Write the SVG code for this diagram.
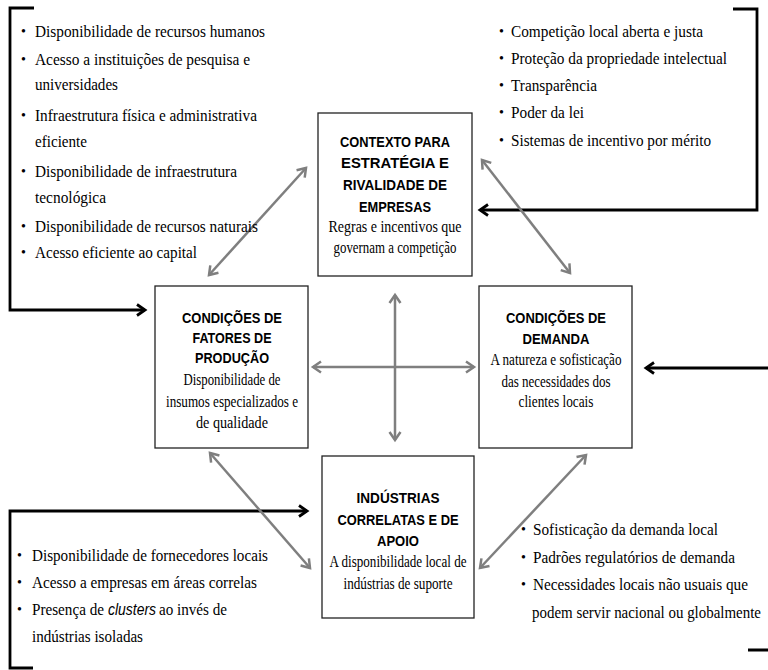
<svg xmlns="http://www.w3.org/2000/svg" width="768" height="670" viewBox="0 0 768 670">
  <style>
    .box { fill: #ffffff; stroke: #222222; stroke-width: 1.3; }
    .hd { font-family: "Liberation Sans Narrow", "Liberation Sans", Arial, sans-serif; font-weight: bold; font-size: 15.5px; fill: #000; text-anchor: middle; }
    .bd { font-family: "Liberation Serif", "Times New Roman", serif; font-size: 16.5px; fill: #000; text-anchor: middle; }
    .li { font-family: "Liberation Serif", "Times New Roman", serif; font-size: 16.5px; fill: #000; }
    .bu { font-family: "Liberation Serif", "Times New Roman", serif; font-size: 14px; fill: #000; }
    .it { font-family: "Liberation Sans Narrow", "Liberation Sans", Arial, sans-serif; font-style: italic; font-size: 16px; fill: #000; }
    .gray { fill: none; stroke: #7f7f7f; stroke-width: 2.5; }
    .blk { fill: none; stroke: #000000; stroke-width: 2.8; }
  </style>
  <defs>
    <marker id="hg" markerUnits="userSpaceOnUse" markerWidth="14" markerHeight="14" refX="10" refY="7" orient="auto-start-reverse">
      <path d="M2,1.5 L10,7 L2,12.5" fill="none" stroke="#7f7f7f" stroke-width="2.5"/>
    </marker>
    <marker id="hb" markerUnits="userSpaceOnUse" markerWidth="14" markerHeight="14" refX="10" refY="7" orient="auto">
      <path d="M2,1.5 L10,7 L2,12.5" fill="none" stroke="#000000" stroke-width="2.8"/>
    </marker>
  </defs>

  <rect width="768" height="670" fill="#ffffff"/>

  <!-- connectors -->
  <g id="connectors">
    <!-- feedback brackets -->
    <path class="blk" d="M34,8 H10 V310 H145" marker-end="url(#hb)"/>
    <path class="blk" d="M733,9 H757 V210 H480" marker-end="url(#hb)"/>
    <path class="blk" d="M748,650 H790 V368 H646" marker-end="url(#hb)"/>
    <path class="blk" d="M33,668 H10 V511 H307" marker-end="url(#hb)"/>
    <!-- mutual influences -->
    <line class="gray" x1="209" y1="275" x2="306" y2="168" marker-start="url(#hg)" marker-end="url(#hg)"/>
    <line class="gray" x1="482" y1="160" x2="570" y2="273" marker-start="url(#hg)" marker-end="url(#hg)"/>
    <line class="gray" x1="313" y1="367" x2="474" y2="367" stroke-width="3" marker-start="url(#hg)" marker-end="url(#hg)"/>
    <line class="gray" x1="395" y1="295" x2="395" y2="440" stroke-width="2" marker-start="url(#hg)" marker-end="url(#hg)"/>
    <line class="gray" x1="210" y1="453" x2="310" y2="568" marker-start="url(#hg)" marker-end="url(#hg)"/>
    <line class="gray" x1="586" y1="455" x2="480" y2="568" marker-start="url(#hg)" marker-end="url(#hg)"/>
  </g>

  <!-- strategy, structure and rivalry -->
  <g id="contexto">
    <rect class="box" x="318" y="113" width="154" height="163"/>
    <text class="hd" x="395" y="147" textLength="110" lengthAdjust="spacingAndGlyphs">CONTEXTO PARA</text>
    <text class="hd" x="395" y="168" textLength="108" lengthAdjust="spacingAndGlyphs">ESTRATÉGIA E</text>
    <text class="hd" x="395" y="190" textLength="104" lengthAdjust="spacingAndGlyphs">RIVALIDADE DE</text>
    <text class="hd" x="395" y="212" textLength="72" lengthAdjust="spacingAndGlyphs">EMPRESAS</text>
    <text class="bd" x="395" y="232" textLength="133" lengthAdjust="spacingAndGlyphs">Regras e incentivos que</text>
    <text class="bd" x="395" y="253" textLength="123" lengthAdjust="spacingAndGlyphs">governam a competição</text>
  </g>

  <!-- factor conditions -->
  <g id="fatores">
    <rect class="box" x="155" y="286" width="153" height="162"/>
    <text class="hd" x="232" y="323" textLength="100" lengthAdjust="spacingAndGlyphs">CONDIÇÕES DE</text>
    <text class="hd" x="232" y="343" textLength="79" lengthAdjust="spacingAndGlyphs">FATORES DE</text>
    <text class="hd" x="232" y="363" textLength="74" lengthAdjust="spacingAndGlyphs">PRODUÇÃO</text>
    <text class="bd" x="232" y="385" textLength="97" lengthAdjust="spacingAndGlyphs">Disponibilidade de</text>
    <text class="bd" x="232" y="407" textLength="132" lengthAdjust="spacingAndGlyphs">insumos especializados e</text>
    <text class="bd" x="232" y="428" textLength="72" lengthAdjust="spacingAndGlyphs">de qualidade</text>
  </g>

  <!-- demand conditions -->
  <g id="demanda">
    <rect class="box" x="479" y="286" width="153" height="162"/>
    <text class="hd" x="556" y="323" textLength="100" lengthAdjust="spacingAndGlyphs">CONDIÇÕES DE</text>
    <text class="hd" x="556" y="344" textLength="67" lengthAdjust="spacingAndGlyphs">DEMANDA</text>
    <text class="bd" x="556" y="365" textLength="131" lengthAdjust="spacingAndGlyphs">A natureza e sofisticação</text>
    <text class="bd" x="556" y="387" textLength="109" lengthAdjust="spacingAndGlyphs">das necessidades dos</text>
    <text class="bd" x="556" y="407" textLength="75" lengthAdjust="spacingAndGlyphs">clientes locais</text>
  </g>

  <!-- related and supporting industries -->
  <g id="industrias">
    <rect class="box" x="322" y="456" width="152" height="162"/>
    <text class="hd" x="398" y="503" textLength="83" lengthAdjust="spacingAndGlyphs">INDÚSTRIAS</text>
    <text class="hd" x="398" y="525" textLength="121" lengthAdjust="spacingAndGlyphs">CORRELATAS E DE</text>
    <text class="hd" x="398" y="546" textLength="42" lengthAdjust="spacingAndGlyphs">APOIO</text>
    <text class="bd" x="398" y="567" textLength="137" lengthAdjust="spacingAndGlyphs">A disponibilidade local de</text>
    <text class="bd" x="398" y="589" textLength="109" lengthAdjust="spacingAndGlyphs">indústrias de suporte</text>
  </g>

  <!-- factor list -->
  <g id="lista-fatores">
    <text class="bu" x="21" y="36">•</text>
    <text class="li" x="35" y="37" textLength="230" lengthAdjust="spacingAndGlyphs">Disponibilidade de recursos humanos</text>
    <text class="bu" x="21" y="64">•</text>
    <text class="li" x="35" y="65" textLength="215" lengthAdjust="spacingAndGlyphs">Acesso a instituições de pesquisa e</text>
    <text class="li" x="35" y="90" textLength="83" lengthAdjust="spacingAndGlyphs">universidades</text>
    <text class="bu" x="21" y="120">•</text>
    <text class="li" x="35" y="121" textLength="222" lengthAdjust="spacingAndGlyphs">Infraestrutura física e administrativa</text>
    <text class="li" x="35" y="147" textLength="52" lengthAdjust="spacingAndGlyphs">eficiente</text>
    <text class="bu" x="21" y="176">•</text>
    <text class="li" x="35" y="177" textLength="202" lengthAdjust="spacingAndGlyphs">Disponibilidade de infraestrutura</text>
    <text class="li" x="35" y="203" textLength="71" lengthAdjust="spacingAndGlyphs">tecnológica</text>
    <text class="bu" x="21" y="231">•</text>
    <text class="li" x="35" y="232" textLength="223" lengthAdjust="spacingAndGlyphs">Disponibilidade de recursos naturais</text>
    <text class="bu" x="21" y="257">•</text>
    <text class="li" x="35" y="258" textLength="162" lengthAdjust="spacingAndGlyphs">Acesso eficiente ao capital</text>
  </g>

  <!-- rivalry list -->
  <g id="lista-contexto">
    <text class="bu" x="499" y="36">•</text>
    <text class="li" x="511" y="37" textLength="192" lengthAdjust="spacingAndGlyphs">Competição local aberta e justa</text>
    <text class="bu" x="499" y="63">•</text>
    <text class="li" x="511" y="64" textLength="216" lengthAdjust="spacingAndGlyphs">Proteção da propriedade intelectual</text>
    <text class="bu" x="499" y="90">•</text>
    <text class="li" x="511" y="91" textLength="86" lengthAdjust="spacingAndGlyphs">Transparência</text>
    <text class="bu" x="499" y="117">•</text>
    <text class="li" x="511" y="118" textLength="73" lengthAdjust="spacingAndGlyphs">Poder da lei</text>
    <text class="bu" x="499" y="145">•</text>
    <text class="li" x="511" y="146" textLength="200" lengthAdjust="spacingAndGlyphs">Sistemas de incentivo por mérito</text>
  </g>

  <!-- supporting industries list -->
  <g id="lista-industrias">
    <text class="bu" x="17" y="560">•</text>
    <text class="li" x="32" y="561" textLength="236" lengthAdjust="spacingAndGlyphs">Disponibilidade de fornecedores locais</text>
    <text class="bu" x="17" y="587">•</text>
    <text class="li" x="32" y="588" textLength="225" lengthAdjust="spacingAndGlyphs">Acesso a empresas em áreas correlas</text>
    <text class="bu" x="17" y="614">•</text>
    <text class="li" x="32" y="615" textLength="72" lengthAdjust="spacingAndGlyphs">Presença de</text>
    <text class="it" x="108" y="615" textLength="48" lengthAdjust="spacingAndGlyphs">clusters</text>
    <text class="li" x="159" y="615" textLength="68" lengthAdjust="spacingAndGlyphs">ao invés de</text>
    <text class="li" x="32" y="642" textLength="111" lengthAdjust="spacingAndGlyphs">indústrias isoladas</text>
  </g>

  <!-- demand list -->
  <g id="lista-demanda">
    <text class="bu" x="521" y="534">•</text>
    <text class="li" x="533" y="535" textLength="185" lengthAdjust="spacingAndGlyphs">Sofisticação da demanda local</text>
    <text class="bu" x="521" y="562">•</text>
    <text class="li" x="533" y="563" textLength="202" lengthAdjust="spacingAndGlyphs">Padrões regulatórios de demanda</text>
    <text class="bu" x="521" y="589">•</text>
    <text class="li" x="533" y="590" textLength="215" lengthAdjust="spacingAndGlyphs">Necessidades locais não usuais que</text>
    <text class="li" x="532" y="618" textLength="229" lengthAdjust="spacingAndGlyphs">podem servir nacional ou globalmente</text>
  </g>
</svg>
